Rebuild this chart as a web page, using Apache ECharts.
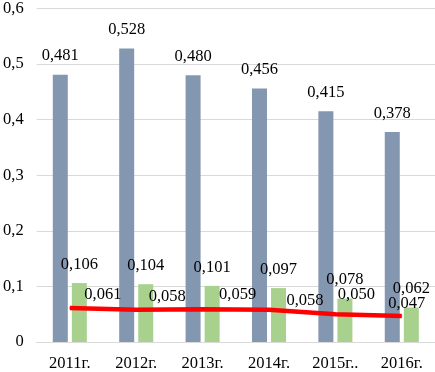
<!DOCTYPE html>
<html>
<head>
<meta charset="utf-8">
<script src="https://cdn.jsdelivr.net/npm/echarts@6/dist/echarts.min.js"></script>
<style>
  html, body { margin: 0; padding: 0; background: #fff; }
  #ch1 { width: 435px; height: 372px; }
</style>
</head>
<body>
<div id="ch1"></div>
<script>
const categories = ['2011г.', '2012г.', '2013г.', '2014г.', '2015г..', '2016г.']
const blueValues = [0.481, 0.528, 0.480, 0.456, 0.415, 0.378]
const greenValues = [0.106, 0.104, 0.101, 0.097, 0.078, 0.062]
const lineValues = [0.061, 0.058, 0.059, 0.058, 0.050, 0.047]
const yTicks = { min: 0, max: 0.6, interval: 0.1 }

// hand-placed label offsets of the red line, as in the source picture
const lineLabelOffsets = [[33, -4], [31, -4], [35, -6], [36, 0], [21, -11], [5, -3]]

const font = 'Liberation Serif, Times New Roman, serif'
const fontSize = 16.5
const comma = v => (v === 0 ? '0' : String(v).replace('.', ','))
const fmt3 = p => p.value.toFixed(3).replace('.', ',')

const cht1 = echarts.init(document.getElementById('ch1'))

const options1 = {
  animation: false,
  grid: { left: 34, right: -4, top: 7, bottom: 27 },
  xAxis: {
    type: 'category',
    data: categories,
    axisTick: { show: false },
    axisLine: { lineStyle: { color: '#d9d9d9', width: 1 } },
    axisLabel: { color: '#000', fontFamily: font, fontSize: fontSize, margin: 13 }
  },
  yAxis: {
    type: 'value',
    min: yTicks.min,
    max: yTicks.max,
    interval: yTicks.interval,
    axisLine: { show: false },
    axisTick: { show: false },
    splitLine: { lineStyle: { color: '#d9d9d9' } },
    axisLabel: {
      color: '#000', fontFamily: font, fontSize: fontSize, margin: 13,
      formatter: v => comma(Math.round(v * 10) / 10)
    }
  },
  series: [
    {
      type: 'bar',
      data: blueValues,
      barWidth: 15,
      barGap: '27%',
      itemStyle: { color: '#8497b0' },
      label: {
        show: true, position: 'top', distance: 10,
        color: '#000', fontFamily: font, fontSize: fontSize, formatter: fmt3
      }
    },
    {
      type: 'bar',
      data: greenValues,
      barWidth: 15,
      barGap: '27%',
      itemStyle: { color: '#a9d18e' },
      label: {
        show: true, position: 'top', distance: 10,
        color: '#000', fontFamily: font, fontSize: fontSize, formatter: fmt3
      }
    },
    {
      type: 'line',
      z: 5,
      data: lineValues.map((v, i) => ({
        value: v,
        label: { offset: lineLabelOffsets[i] }
      })),
      symbol: 'circle',
      symbolSize: 1,
      lineStyle: { color: '#ff0000', width: 4.5 },
      itemStyle: { color: '#ff0000' },
      label: {
        show: true, position: 'top', distance: 0,
        color: '#000', fontFamily: font, fontSize: fontSize, formatter: fmt3
      }
    }
  ]
}
cht1.setOption(options1)
</script>
</body>
</html>
